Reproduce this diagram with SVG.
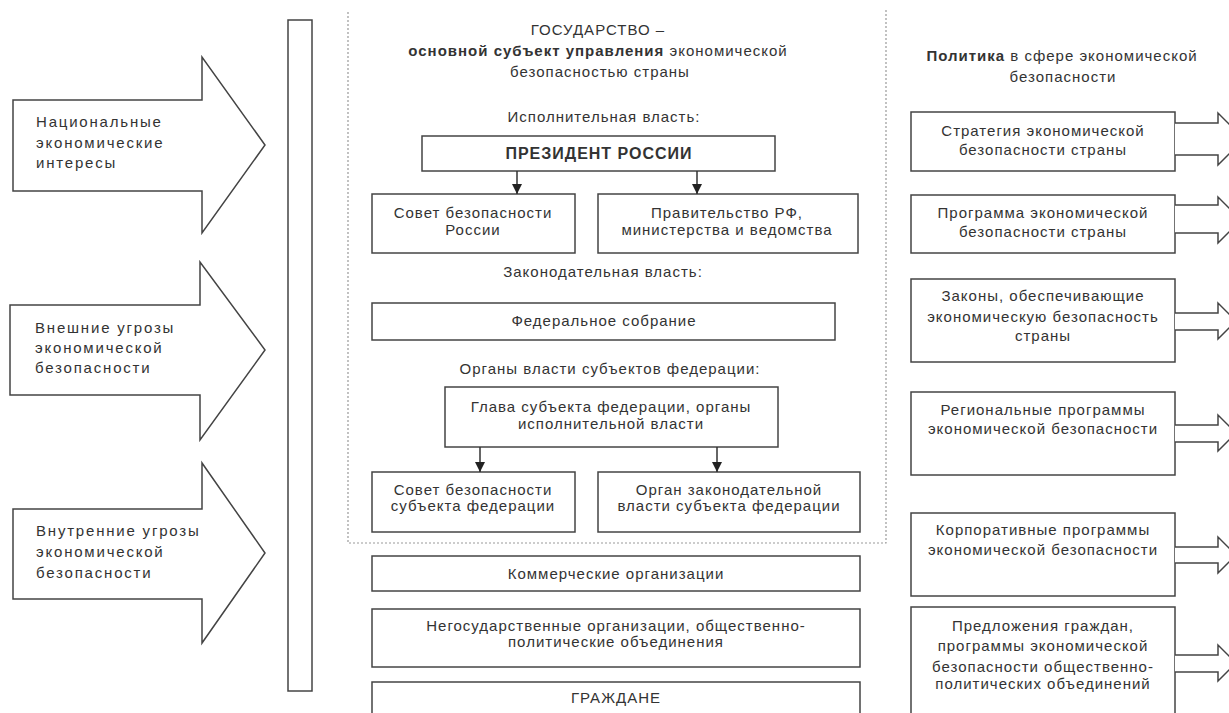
<svg xmlns="http://www.w3.org/2000/svg" width="1229" height="713" viewBox="0 0 1229 713">
<style>
text{font-family:"Liberation Sans",Arial,sans-serif;font-size:15px;fill:#333;letter-spacing:1px}
.c{text-anchor:middle}
.l{letter-spacing:1.8px}
.b{font-weight:bold}
.box{fill:#fff;stroke:#444;stroke-width:1.5}
.arr{fill:#fff;stroke:#444;stroke-width:1.5;stroke-linejoin:miter}
.ln{stroke:#333;stroke-width:1.5;fill:none}
.cont{fill:none;stroke:#999;stroke-width:1.2;stroke-dasharray:2 2}
</style>
<defs>
<marker id="ah" viewBox="0 0 10 10" refX="10" refY="5" markerWidth="10" markerHeight="10" markerUnits="userSpaceOnUse" orient="auto">
<path d="M0,0 L10,5 L0,10 Z" fill="#222"/>
</marker>
</defs>
<rect width="1229" height="713" fill="#fff"/>

<g id="container"><path class="cont" d="M348,12 V543 H886 V10"/></g>

<g id="arrow-interests">
<polygon class="arr" points="13,100 202,100 202,57 265,145 202,233 202,191 13,191"/>
<text class="l" x="36" y="127">Национальные</text>
<text class="l" x="36" y="148">экономические</text>
<text class="l" x="36" y="168">интересы</text>
</g>
<g id="arrow-external">
<polygon class="arr" points="10,305 200,305 200,262 265,350 200,440 200,395 10,395"/>
<text class="l" x="35" y="333">Внешние угрозы</text>
<text class="l" x="35" y="353">экономической</text>
<text class="l" x="35" y="373">безопасности</text>
</g>
<g id="arrow-internal">
<polygon class="arr" points="13,509 202,509 202,463 265,553 202,643 202,599 13,599"/>
<text class="l" x="36" y="536">Внутренние угрозы</text>
<text class="l" x="36" y="557">экономической</text>
<text class="l" x="36" y="578">безопасности</text>
</g>

<g id="bar"><rect class="box" x="288" y="20" width="24" height="671"/></g>

<g id="title">
<text class="c" x="598" y="35">ГОСУДАРСТВО –</text>
<text class="c" x="598" y="56"><tspan class="b">основной субъект управления</tspan> экономической</text>
<text class="c" x="600" y="77">безопасностью страны</text>
</g>
<g id="exec-label"><text class="c" x="604" y="122">Исполнительная власть:</text></g>
<g id="president"><rect class="box" x="422" y="136" width="353" height="35"/>
<text class="c b" x="599" y="159" style="font-size:16px">ПРЕЗИДЕНТ РОССИИ</text></g>
<g id="security-council"><rect class="box" x="372" y="194" width="203" height="59"/>
<text class="c" x="473" y="218">Совет безопасности</text>
<text class="c" x="473" y="235">России</text></g>
<g id="government"><rect class="box" x="598" y="194" width="260" height="59"/>
<text class="c" x="727" y="218">Правительство РФ,</text>
<text class="c" x="727" y="235">министерства и ведомства</text></g>
<g id="leg-label"><text class="c" x="603" y="277">Законодательная власть:</text></g>
<g id="federal-assembly"><rect class="box" x="372" y="303" width="463" height="37"/>
<text class="c" x="604" y="326">Федеральное собрание</text></g>
<g id="regional-label"><text class="c" x="610" y="374">Органы власти субъектов федерации:</text></g>
<g id="region-head"><rect class="box" x="445" y="387" width="333" height="60"/>
<text class="c" x="611" y="412">Глава субъекта федерации, органы</text>
<text class="c" x="611" y="429">исполнительной власти</text></g>
<g id="region-council"><rect class="box" x="372" y="472" width="203" height="60"/>
<text class="c" x="473" y="495">Совет безопасности</text>
<text class="c" x="473" y="511">субъекта федерации</text></g>
<g id="region-legislature"><rect class="box" x="598" y="472" width="262" height="60"/>
<text class="c" x="729" y="495">Орган законодательной</text>
<text class="c" x="729" y="511">власти субъекта федерации</text></g>
<g id="commercial"><rect class="box" x="372" y="556" width="488" height="35"/>
<text class="c" x="616" y="579">Коммерческие организации</text></g>
<g id="ngo"><rect class="box" x="372" y="609" width="488" height="58"/>
<text class="c" x="616" y="631">Негосударственные организации, общественно-</text>
<text class="c" x="616" y="647">политические объединения</text></g>
<g id="citizens"><rect class="box" x="372" y="682" width="488" height="40"/>
<text class="c" x="616" y="703">ГРАЖДАНЕ</text></g>

<g id="policy-title">
<text class="c" x="1062" y="61"><tspan class="b">Политика</tspan> в сфере экономической</text>
<text class="c" x="1063" y="82">безопасности</text>
</g>
<g id="p1"><rect class="box" x="911" y="112" width="264" height="59"/>
<text class="c" x="1043" y="136">Стратегия экономической</text>
<text class="c" x="1043" y="155">безопасности страны</text></g>
<g id="p2"><rect class="box" x="911" y="195" width="264" height="58"/>
<text class="c" x="1043" y="218">Программа экономической</text>
<text class="c" x="1043" y="237">безопасности страны</text></g>
<g id="p3"><rect class="box" x="911" y="279" width="264" height="83"/>
<text class="c" x="1043" y="301">Законы, обеспечивающие</text>
<text class="c" x="1043" y="322">экономическую безопасность</text>
<text class="c" x="1043" y="341">страны</text></g>
<g id="p4"><rect class="box" x="911" y="392" width="264" height="83"/>
<text class="c" x="1043" y="415">Региональные программы</text>
<text class="c" x="1043" y="434">экономической безопасности</text></g>
<g id="p5"><rect class="box" x="911" y="513" width="264" height="83"/>
<text class="c" x="1043" y="535">Корпоративные программы</text>
<text class="c" x="1043" y="555">экономической безопасности</text></g>
<g id="p6"><rect class="box" x="911" y="607" width="264" height="120"/>
<text class="c" x="1043" y="631">Предложения граждан,</text>
<text class="c" x="1043" y="651">программы экономической</text>
<text class="c" x="1043" y="672">безопасности общественно-</text>
<text class="c" x="1043" y="689">политических объединений</text></g>

<g id="connectors">
<line class="ln" x1="517" y1="171" x2="517" y2="194" marker-end="url(#ah)"/>
<line class="ln" x1="697" y1="171" x2="697" y2="194" marker-end="url(#ah)"/>
<line class="ln" x1="480" y1="447" x2="480" y2="472" marker-end="url(#ah)"/>
<line class="ln" x1="717" y1="447" x2="717" y2="472" marker-end="url(#ah)"/>
<path class="arr" d="M1175,123 H1218 V113 L1244,139 L1218,165 V155 H1175"/>
<path class="arr" d="M1175,205 H1218 V197 L1241,220 L1218,243 V233 H1175"/>
<path class="arr" d="M1175,313 H1218 V303 L1236,321 L1218,339 V330 H1175"/>
<path class="arr" d="M1175,425 H1218 V415 L1236,433 L1218,451 V442 H1175"/>
<path class="arr" d="M1175,547 H1218 V537 L1236,555 L1218,573 V563 H1175"/>
<path class="arr" d="M1175,655 H1218 V645 L1236,663 L1218,681 V672 H1175"/>
</g>
</svg>
